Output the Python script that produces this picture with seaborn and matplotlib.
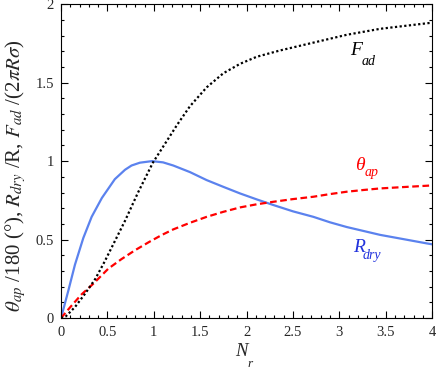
import numpy as np
import pandas as pd
import matplotlib
matplotlib.use('Agg')
import matplotlib.pyplot as plt
import seaborn as sns

# values
nr_fad = [0, 0.05, 0.15, 0.26, 0.37, 0.47, 0.58, 0.69, 0.83, 0.99, 1.12, 1.25,
          1.39, 1.57, 1.75, 1.93, 2.11, 2.36, 2.72, 3.08, 3.44, 3.94, 4.0]
fad = [0, 0.01, 0.07, 0.156, 0.25, 0.36, 0.49, 0.62, 0.80, 0.99, 1.11, 1.23,
       1.35, 1.47, 1.56, 1.62, 1.665, 1.705, 1.755, 1.805, 1.843, 1.878, 1.882]

nr_theta = [0, 0.1, 0.22, 0.35, 0.51, 0.65, 0.8, 0.95, 1.085, 1.21, 1.39, 1.57,
            1.75, 1.93, 2.11, 2.29, 2.5, 2.72, 2.9, 3.08, 3.26, 3.44, 3.7, 3.94, 4.0]
theta = [0, 0.07, 0.15, 0.22, 0.315, 0.375, 0.433, 0.485, 0.529, 0.565, 0.607,
         0.645, 0.677, 0.705, 0.725, 0.741, 0.758, 0.773, 0.79, 0.805, 0.816,
         0.826, 0.835, 0.843, 0.845]

nr_rdry = [0, 0.08, 0.15, 0.24, 0.33, 0.44, 0.58, 0.69, 0.76, 0.85, 0.98, 1.1,
           1.21, 1.39, 1.57, 1.75, 1.93, 2.11, 2.29, 2.5, 2.72, 2.9, 3.08, 3.26,
           3.44, 3.7, 3.94, 4.0]
rdry = [0, 0.178, 0.34, 0.51, 0.645, 0.765, 0.885, 0.945, 0.972, 0.99, 1.0,
        0.992, 0.972, 0.93, 0.879, 0.836, 0.794, 0.756, 0.72, 0.68, 0.645, 0.61,
        0.58, 0.555, 0.53, 0.502, 0.476, 0.47]

x_ticks = [0, 0.5, 1, 1.5, 2, 2.5, 3, 3.5, 4]
x_ticklabels = ['0', '0.5', '1', '1.5', '2', '2.5', '3', '3.5', '4']
y_ticks = [0, 0.5, 1, 1.5, 2]
y_ticklabels = ['0', '0.5', '1', '1.5', '2']

sns.set_theme(style="ticks")
plt.rcParams['font.family'] = ['Liberation Serif', 'DejaVu Serif']
plt.rcParams['mathtext.fontset'] = 'stix'

fig = plt.figure(figsize=(4.36, 3.8), dpi=100)
ax = fig.add_axes([0.140, 0.163, 0.851, 0.826])

df_f = pd.DataFrame({'Nr': nr_fad, 'val': fad})
df_t = pd.DataFrame({'Nr': nr_theta, 'val': theta})
df_r = pd.DataFrame({'Nr': nr_rdry, 'val': rdry})

sns.lineplot(data=df_r, x='Nr', y='val', ax=ax, color='#5b82ee', lw=1.6)
sns.lineplot(data=df_t, x='Nr', y='val', ax=ax, color='#ff0000', lw=1.6,
             linestyle=(0, (3, 1.6)))
sns.lineplot(data=df_f, x='Nr', y='val', ax=ax, color='black', lw=1.6,
             linestyle=(0, (1, 1.1)))

ax.set_xlim(0, 4)
ax.set_ylim(0, 2)
ax.set_xticks(x_ticks)
ax.set_xticklabels(x_ticklabels)
ax.set_xticks(np.arange(0, 4.01, 0.1), minor=True)
ax.set_yticks(y_ticks)
ax.set_yticklabels(y_ticklabels)
ax.set_yticks(np.arange(0, 2.01, 0.1), minor=True)
ax.tick_params(which='both', direction='in', top=True, right=True,
               labelsize=10.5, width=0.8, color='black')
ax.tick_params(axis='x', pad=6)
ax.tick_params(axis='y', pad=5)
ax.tick_params(which='major', length=5)
ax.tick_params(which='minor', length=2.5)
for s in ax.spines.values():
    s.set_linewidth(0.8)
    s.set_color('black')
ax.set_xlabel('')
ax.set_ylabel('')

# x label: N with a low subscript r
fig.text(241 / 436, 1 - 356 / 380, 'N', fontsize=13.5, style='italic',
         ha='center', va='baseline')
fig.text(247 / 436, 1 - 367 / 380, 'r', fontsize=9.5, style='italic',
         ha='left', va='baseline')

ax.text(-0.62, 0.91,
        r'$\theta_{ap}$ /180 (°), $R_{dry}$ /R, $F_{ad}$ /(2$\pi R\sigma$)',
        fontsize=15, rotation=90, ha='left', va='center',
        transform=ax.transData)

# curve labels
ax.text(3.116, 1.675, 'F', fontsize=14, style='italic', color='black',
        va='baseline')
ax.text(3.245, 1.61, 'ad', fontsize=10, style='italic', color='black',
        va='baseline')
ax.text(3.17, 0.943, 'θ', fontsize=14, style='italic', color='#ff0000',
        va='baseline')
ax.text(3.267, 0.904, 'ap', fontsize=10, style='italic', color='#ff0000',
        va='baseline')
ax.text(3.148, 0.42, 'R', fontsize=14, style='italic', color='#2233dd',
        va='baseline')
ax.text(3.256, 0.376, 'dry', fontsize=10, style='italic', color='#2233dd',
        va='baseline')

fig.savefig('out.png', dpi=100)
